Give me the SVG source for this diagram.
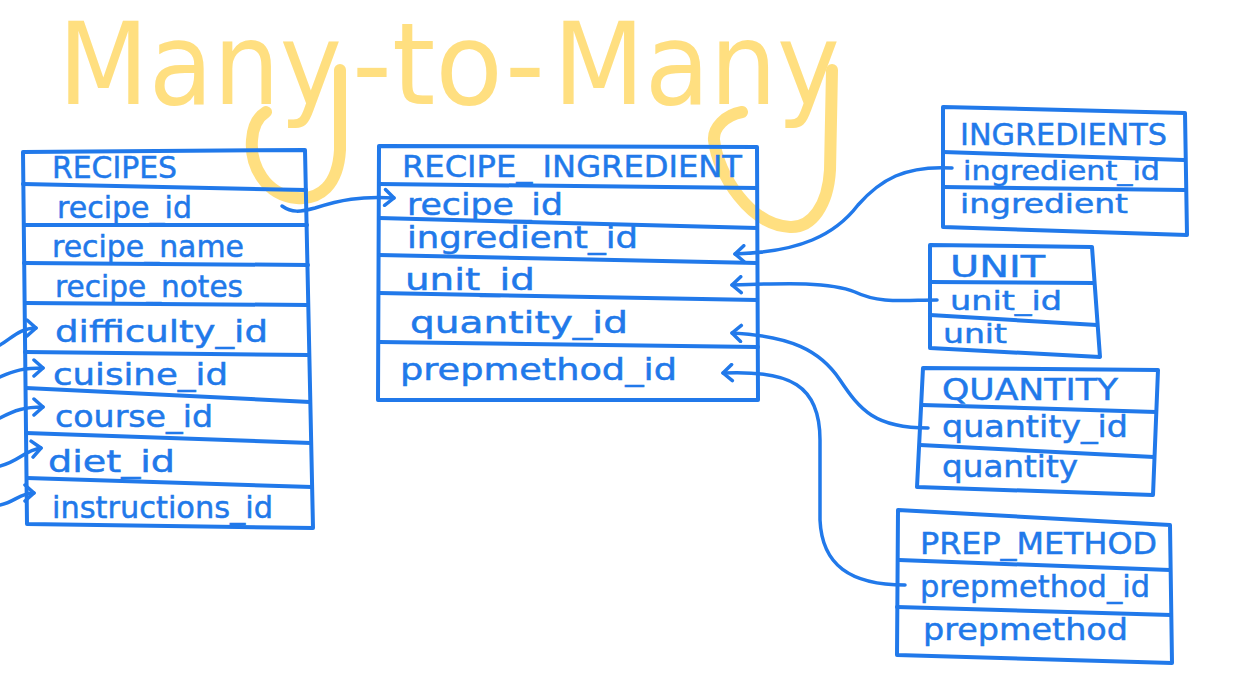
<svg xmlns="http://www.w3.org/2000/svg" width="1256" height="684" viewBox="0 0 1256 684">
<style>
.t{font-family:"DejaVu Sans","Liberation Sans",sans-serif;font-size:31px;fill:#2179EA;stroke:#2179EA;stroke-width:0.5}
.s{font-size:27px}
.box{fill:none;stroke:#2179EA;stroke-width:4;stroke-linejoin:round;stroke-linecap:round}
.conn{fill:none;stroke:#2179EA;stroke-width:3.5;stroke-linecap:round;stroke-linejoin:round}
.ttl{font-family:"DejaVu Sans","Liberation Sans",sans-serif;font-size:114px;fill:#FFCC33}
.loop{fill:none;stroke:#FFCC33;stroke-width:12;stroke-linecap:round}
</style>
<defs>
<marker id="arr" markerUnits="userSpaceOnUse" markerWidth="16" markerHeight="20" refX="12" refY="10" orient="auto">
<path d="M3,2 L12,10 L3,18" fill="none" stroke="#2179EA" stroke-width="3.5" stroke-linecap="round" stroke-linejoin="round"/>
</marker>
</defs>
<rect width="1256" height="684" fill="#ffffff"/>

<g id="title" opacity="0.62">
<text class="ttl" x="58" y="104" textLength="284" lengthAdjust="spacingAndGlyphs">Many</text>
<text class="ttl" x="352" y="104" textLength="193" lengthAdjust="spacingAndGlyphs">-to-</text>
<text class="ttl" x="553" y="104" textLength="287" lengthAdjust="spacingAndGlyphs">Many</text>
<path class="loop" d="M340 70 L340 150 C338 185 320 200 297 198 C265 195 250 165 252 140 C253 125 258 117 266 112"/>
<path class="loop" d="M832 70 L830 170 C828 205 812 228 790 227 C750 225 718 175 714 140 C713 128 725 115 742 112"/>
</g>

<g id="recipes">
<path class="box" d="M23 152 L305 150 L313 528 L27 524 Z"/>
<path class="box" d="M23 184 L306 190 M24 225 L307 225 M24 263 L308 265 M25 303 L308 305 M25 352 L309 355 M26 388 L310 402 M26 433 L311 443 M27 478 L312 487"/>
<text class="t" x="52" y="178" textLength="125" lengthAdjust="spacingAndGlyphs">RECIPES</text>
<text class="t" x="57" y="218" textLength="135" lengthAdjust="spacingAndGlyphs">recipe_id</text>
<text class="t" x="52" y="257" textLength="192" lengthAdjust="spacingAndGlyphs">recipe_name</text>
<text class="t" x="55" y="297" textLength="188" lengthAdjust="spacingAndGlyphs">recipe_notes</text>
<text class="t" x="55" y="342" textLength="213" lengthAdjust="spacingAndGlyphs">difficulty_id</text>
<text class="t" x="53" y="385" textLength="175" lengthAdjust="spacingAndGlyphs">cuisine_id</text>
<text class="t" x="55" y="427" textLength="158" lengthAdjust="spacingAndGlyphs">course_id</text>
<text class="t" x="48" y="472" textLength="127" lengthAdjust="spacingAndGlyphs">diet_id</text>
<text class="t" x="52" y="518" textLength="221" lengthAdjust="spacingAndGlyphs">instructions_id</text>
</g>

<g id="recipe_ingredient">
<path class="box" d="M379 146 L757 147 L758 400 L378 400 Z"/>
<path class="box" d="M379 184 L757 188 M379 218 L757 228 M379 255 L757 263 M379 293 L757 300 M379 342 L758 347"/>
<text class="t" x="402" y="177" textLength="340" lengthAdjust="spacingAndGlyphs">RECIPE_ INGREDIENT</text>
<text class="t" x="407" y="215" textLength="156" lengthAdjust="spacingAndGlyphs">recipe_id</text>
<text class="t" x="407" y="248" textLength="231" lengthAdjust="spacingAndGlyphs">ingredient_id</text>
<text class="t" x="405" y="290" textLength="130" lengthAdjust="spacingAndGlyphs">unit_id</text>
<text class="t" x="410" y="333" textLength="218" lengthAdjust="spacingAndGlyphs">quantity_id</text>
<text class="t" x="400" y="380" textLength="277" lengthAdjust="spacingAndGlyphs">prepmethod_id</text>
</g>

<g id="ingredients">
<path class="box" d="M943 107 L1185 113 L1187 235 L943 227 Z"/>
<path class="box" d="M943 152 L1184 160 M943 187 L1185 190"/>
<text class="t" x="960" y="145" textLength="207" lengthAdjust="spacingAndGlyphs">INGREDIENTS</text>
<text class="t s" x="963" y="180" textLength="197" lengthAdjust="spacingAndGlyphs">ingredient_id</text>
<text class="t s" x="960" y="213" textLength="168" lengthAdjust="spacingAndGlyphs">ingredient</text>
</g>

<g id="unit">
<path class="box" d="M930 245 L1092 247 L1100 357 L930 348 Z"/>
<path class="box" d="M930 282 L1094 283 M930 315 L1097 325"/>
<text class="t" x="950" y="277" textLength="95" lengthAdjust="spacingAndGlyphs">UNIT</text>
<text class="t s" x="950" y="310" textLength="112" lengthAdjust="spacingAndGlyphs">unit_id</text>
<text class="t s" x="943" y="343" textLength="64" lengthAdjust="spacingAndGlyphs">unit</text>
</g>

<g id="quantity">
<path class="box" d="M923 368 L1158 370 L1153 495 L917 487 Z"/>
<path class="box" d="M922 405 L1156 412 M920 445 L1154 457"/>
<text class="t" x="942" y="400" textLength="176" lengthAdjust="spacingAndGlyphs">QUANTITY</text>
<text class="t" x="942" y="437" textLength="186" lengthAdjust="spacingAndGlyphs">quantity_id</text>
<text class="t" x="942" y="477" textLength="136" lengthAdjust="spacingAndGlyphs">quantity</text>
</g>

<g id="prep_method">
<path class="box" d="M898 510 L1170 525 L1172 663 L897 655 Z"/>
<path class="box" d="M899 560 L1170 570 M897 607 L1171 615"/>
<text class="t" x="920" y="554" textLength="237" lengthAdjust="spacingAndGlyphs">PREP_METHOD</text>
<text class="t" x="920" y="597" textLength="230" lengthAdjust="spacingAndGlyphs">prepmethod_id</text>
<text class="t" x="923" y="640" textLength="205" lengthAdjust="spacingAndGlyphs">prepmethod</text>
</g>

<g id="connectors">
<path class="conn" marker-end="url(#arr)" d="M282 206 C292 213 300 212 315 208 C340 200 360 196 394 198"/>
<path class="conn" marker-end="url(#arr)" d="M952 168 C905 165 880 180 858 205 C835 235 800 252 735 254"/>
<path class="conn" marker-end="url(#arr)" d="M937 300 C905 300 880 304 855 292 C830 282 790 283 732 285"/>
<path class="conn" marker-end="url(#arr)" d="M928 428 C875 428 860 410 840 380 C820 350 790 336 732 333"/>
<path class="conn" marker-end="url(#arr)" d="M905 585 C850 585 822 565 820 520 L820 440 C820 385 790 370 723 373"/>
<path class="conn" marker-end="url(#arr)" d="M0 345 C12 338 20 328 36 328"/>
<path class="conn" marker-end="url(#arr)" d="M0 377 C15 370 25 368 43 368"/>
<path class="conn" marker-end="url(#arr)" d="M0 418 C15 410 25 407 43 407"/>
<path class="conn" marker-end="url(#arr)" d="M0 466 C18 462 25 450 41 448"/>
<path class="conn" marker-end="url(#arr)" d="M0 505 C15 502 20 493 34 493"/>
</g>
</svg>
